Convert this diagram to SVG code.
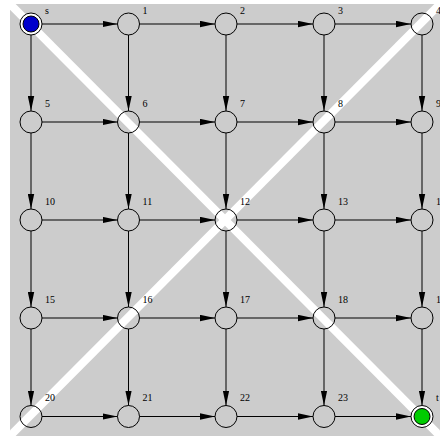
<svg xmlns="http://www.w3.org/2000/svg" width="440" height="436" viewBox="0 0 440 436">
<style>
.e{stroke:#000;stroke-width:1;fill:none;marker-end:url(#ah)}
.n{fill:none;stroke:#000;stroke-width:1}
.l{font-family:"Liberation Serif",serif;font-size:10px;fill:#000}
.st{stroke:#fff;stroke-width:8}
</style>
<defs>
<marker id="ah" markerWidth="15" markerHeight="7" refX="15" refY="3.5" orient="auto" markerUnits="userSpaceOnUse"><path d="M0,0.3 L15,3.5 L0,6.7 z" fill="#000"/></marker>
<clipPath id="bg"><rect x="10" y="4" width="430" height="432"/></clipPath>
</defs>
<rect x="10" y="4" width="430" height="432" fill="#cccccc"/>
<g clip-path="url(#bg)">
<line class="st" x1="10" y1="4" x2="440" y2="436"/>
<line class="st" x1="10" y1="436" x2="440" y2="4"/>
</g>
<g id="connectors">
<line class="e" x1="42" y1="24" x2="117.5" y2="24"/>
<line class="e" x1="139.5" y1="24" x2="215" y2="24"/>
<line class="e" x1="237" y1="24" x2="313" y2="24"/>
<line class="e" x1="335" y1="24" x2="411" y2="24"/>
<line class="e" x1="42" y1="122" x2="117.5" y2="122"/>
<line class="e" x1="139.5" y1="122" x2="215" y2="122"/>
<line class="e" x1="237" y1="122" x2="313" y2="122"/>
<line class="e" x1="335" y1="122" x2="411" y2="122"/>
<line class="e" x1="42" y1="220" x2="117.5" y2="220"/>
<line class="e" x1="139.5" y1="220" x2="215" y2="220"/>
<line class="e" x1="237" y1="220" x2="313" y2="220"/>
<line class="e" x1="335" y1="220" x2="411" y2="220"/>
<line class="e" x1="42" y1="318" x2="117.5" y2="318"/>
<line class="e" x1="139.5" y1="318" x2="215" y2="318"/>
<line class="e" x1="237" y1="318" x2="313" y2="318"/>
<line class="e" x1="335" y1="318" x2="411" y2="318"/>
<line class="e" x1="42" y1="416.5" x2="117.5" y2="416.5"/>
<line class="e" x1="139.5" y1="416.5" x2="215" y2="416.5"/>
<line class="e" x1="237" y1="416.5" x2="313" y2="416.5"/>
<line class="e" x1="335" y1="416.5" x2="411" y2="416.5"/>
<line class="e" x1="31" y1="35" x2="31" y2="111"/>
<line class="e" x1="31" y1="133" x2="31" y2="209"/>
<line class="e" x1="31" y1="231" x2="31" y2="307"/>
<line class="e" x1="31" y1="329" x2="31" y2="405.5"/>
<line class="e" x1="128.5" y1="35" x2="128.5" y2="111"/>
<line class="e" x1="128.5" y1="133" x2="128.5" y2="209"/>
<line class="e" x1="128.5" y1="231" x2="128.5" y2="307"/>
<line class="e" x1="128.5" y1="329" x2="128.5" y2="405.5"/>
<line class="e" x1="226" y1="35" x2="226" y2="111"/>
<line class="e" x1="226" y1="133" x2="226" y2="209"/>
<line class="e" x1="226" y1="231" x2="226" y2="307"/>
<line class="e" x1="226" y1="329" x2="226" y2="405.5"/>
<line class="e" x1="324" y1="35" x2="324" y2="111"/>
<line class="e" x1="324" y1="133" x2="324" y2="209"/>
<line class="e" x1="324" y1="231" x2="324" y2="307"/>
<line class="e" x1="324" y1="329" x2="324" y2="405.5"/>
<line class="e" x1="422" y1="35" x2="422" y2="111"/>
<line class="e" x1="422" y1="133" x2="422" y2="209"/>
<line class="e" x1="422" y1="231" x2="422" y2="307"/>
<line class="e" x1="422" y1="329" x2="422" y2="405.5"/>
</g>
<g id="node-s"><circle cx="31" cy="24" r="11" fill="#fff" stroke="#000" stroke-width="1"/><circle cx="31" cy="24" r="8" fill="#0000cc" stroke="#000" stroke-width="1"/><text class="l" x="45" y="13.5">s</text></g>
<g id="node-1"><circle class="n" cx="128.5" cy="24" r="11"/><text class="l" x="142.5" y="13.5">1</text></g>
<g id="node-2"><circle class="n" cx="226" cy="24" r="11"/><text class="l" x="240" y="13.5">2</text></g>
<g id="node-3"><circle class="n" cx="324" cy="24" r="11"/><text class="l" x="338" y="13.5">3</text></g>
<g id="node-4"><circle class="n" cx="422" cy="24" r="11"/><text class="l" x="436" y="13.5">4</text></g>
<g id="node-5"><circle class="n" cx="31" cy="122" r="11"/><text class="l" x="45" y="106.5">5</text></g>
<g id="node-6"><circle class="n" cx="128.5" cy="122" r="11"/><text class="l" x="142.5" y="106.5">6</text></g>
<g id="node-7"><circle class="n" cx="226" cy="122" r="11"/><text class="l" x="240" y="106.5">7</text></g>
<g id="node-8"><circle class="n" cx="324" cy="122" r="11"/><text class="l" x="338" y="106.5">8</text></g>
<g id="node-9"><circle class="n" cx="422" cy="122" r="11"/><text class="l" x="436" y="106.5">9</text></g>
<g id="node-10"><circle class="n" cx="31" cy="220" r="11"/><text class="l" x="45" y="204.5">10</text></g>
<g id="node-11"><circle class="n" cx="128.5" cy="220" r="11"/><text class="l" x="142.5" y="204.5">11</text></g>
<g id="node-12"><circle class="n" cx="226" cy="220" r="11"/><text class="l" x="240" y="204.5">12</text></g>
<g id="node-13"><circle class="n" cx="324" cy="220" r="11"/><text class="l" x="338" y="204.5">13</text></g>
<g id="node-14"><circle class="n" cx="422" cy="220" r="11"/><text class="l" x="436" y="204.5">14</text></g>
<g id="node-15"><circle class="n" cx="31" cy="318" r="11"/><text class="l" x="45" y="302.5">15</text></g>
<g id="node-16"><circle class="n" cx="128.5" cy="318" r="11"/><text class="l" x="142.5" y="302.5">16</text></g>
<g id="node-17"><circle class="n" cx="226" cy="318" r="11"/><text class="l" x="240" y="302.5">17</text></g>
<g id="node-18"><circle class="n" cx="324" cy="318" r="11"/><text class="l" x="338" y="302.5">18</text></g>
<g id="node-19"><circle class="n" cx="422" cy="318" r="11"/><text class="l" x="436" y="302.5">19</text></g>
<g id="node-20"><circle class="n" cx="31" cy="416.5" r="11"/><text class="l" x="45" y="401">20</text></g>
<g id="node-21"><circle class="n" cx="128.5" cy="416.5" r="11"/><text class="l" x="142.5" y="401">21</text></g>
<g id="node-22"><circle class="n" cx="226" cy="416.5" r="11"/><text class="l" x="240" y="401">22</text></g>
<g id="node-23"><circle class="n" cx="324" cy="416.5" r="11"/><text class="l" x="338" y="401">23</text></g>
<g id="node-t"><circle cx="422" cy="416.5" r="11" fill="#fff" stroke="#000" stroke-width="1"/><circle cx="422" cy="416.5" r="8" fill="#00cc00" stroke="#000" stroke-width="1"/><text class="l" x="436" y="401">t</text></g>
</svg>
